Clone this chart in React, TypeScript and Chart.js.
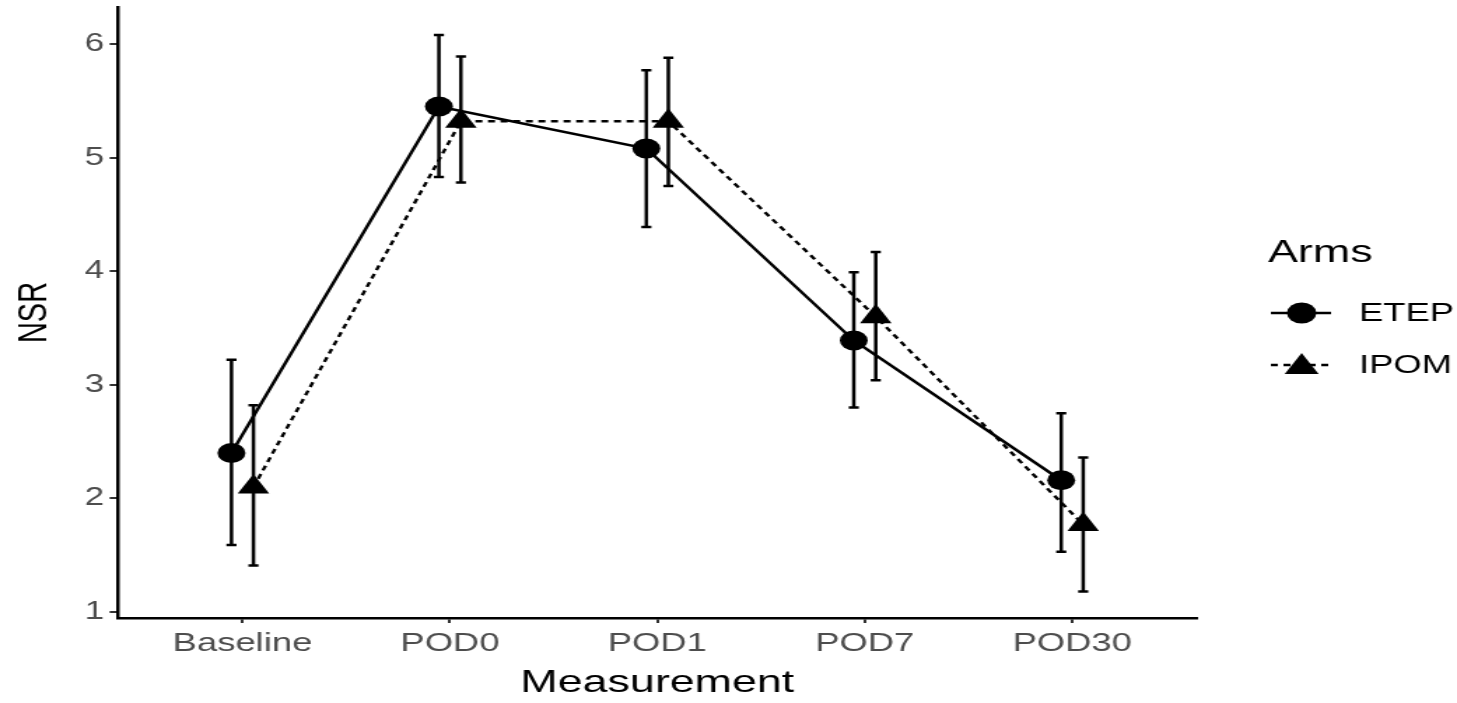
import React, { useEffect, useRef } from "react";
import { Chart, registerables } from "chart.js";

Chart.register(...registerables);

// ---- data ----
const categories = ["Baseline", "POD0", "POD1", "POD7", "POD30"];
const seriesNames = ["ETEP", "IPOM"];
const etepMean = [2.4, 5.45, 5.08, 3.39, 2.16];
const etepLower = [1.59, 4.83, 4.39, 2.8, 1.53];
const etepUpper = [3.22, 6.08, 5.77, 3.99, 2.75];
const ipomMean = [2.1, 5.32, 5.32, 3.6, 1.77];
const ipomLower = [1.41, 4.78, 4.75, 3.04, 1.18];
const ipomUpper = [2.82, 5.89, 5.88, 4.17, 2.36];
const yTickValues = [1, 2, 3, 4, 5, 6];

const lowers = [etepLower, ipomLower];
const uppers = [etepUpper, ipomUpper];
const dodge = 0.053;

// ---- layout (canvas is drawn narrower and stretched horizontally) ----
const PAGE_W = 1457;
const PAGE_H = 703;
const CANVAS_W = 1041;
const STRETCH = PAGE_W / CANVAS_W;
const FONT = "'Liberation Sans', Arial, Helvetica, sans-serif";

function drawMarker(ctx: CanvasRenderingContext2D, style: string, x: number, y: number, r: number) {
  ctx.beginPath();
  if (style === "triangle") {
    for (let k = 0; k < 3; k++) {
      const a = (k * 2 * Math.PI) / 3;
      const px = x + Math.sin(a) * r;
      const py = y - Math.cos(a) * r;
      if (k === 0) ctx.moveTo(px, py);
      else ctx.lineTo(px, py);
    }
    ctx.closePath();
  } else {
    ctx.arc(x, y, r, 0, Math.PI * 2);
  }
  ctx.fill();
}

const errorBarPlugin = {
  id: "errorBars",
  afterDatasetsDraw(chart: any) {
    const { ctx, scales } = chart;
    const xs = scales.x;
    const ys = scales.y;
    chart.data.datasets.forEach((ds: any, di: number) => {
      const lo = lowers[di];
      const hi = uppers[di];
      ds.data.forEach((p: any, i: number) => {
        const px = xs.getPixelForValue(p.x);
        const yl = ys.getPixelForValue(lo[i]);
        const yh = ys.getPixelForValue(hi[i]);
        ctx.save();
        ctx.strokeStyle = "#000";
        ctx.lineWidth = 2.5;
        ctx.setLineDash([]);
        ctx.beginPath();
        ctx.moveTo(px, yl);
        ctx.lineTo(px, yh);
        ctx.moveTo(px - 3.6, yl);
        ctx.lineTo(px + 3.6, yl);
        ctx.moveTo(px - 3.6, yh);
        ctx.lineTo(px + 3.6, yh);
        ctx.stroke();
        ctx.restore();
      });
    });
  },
};

const legendPlugin = {
  id: "ggLegend",
  afterDraw(chart: any) {
    const { ctx } = chart;
    ctx.save();
    ctx.fillStyle = "#000";
    ctx.textAlign = "left";
    ctx.textBaseline = "middle";
    ctx.font = `32px ${FONT}`;
    ctx.fillText("Arms", 906, 253);
    chart.data.datasets.forEach((ds: any, di: number) => {
      const y = 313 + di * 52;
      ctx.strokeStyle = "#000";
      ctx.lineWidth = 2.4;
      ctx.setLineDash(ds.borderDash || []);
      ctx.beginPath();
      ctx.moveTo(908, y);
      ctx.lineTo(951, y);
      ctx.stroke();
      ctx.setLineDash([]);
      ctx.fillStyle = "#000";
      if (ds.pointStyle === "triangle") drawMarker(ctx, "triangle", 930, y + 2, 14);
      else drawMarker(ctx, "circle", 930, y, 10.5);
      ctx.font = `26px ${FONT}`;
      ctx.fillText(seriesNames[di], 971, y + 1);
    });
    ctx.restore();
  },
};

export default function App() {
  const canvasRef = useRef<HTMLCanvasElement | null>(null);

  useEffect(() => {
    const canvas = canvasRef.current;
    if (!canvas) return;
    Chart.defaults.font.family = FONT;

    const chart = new Chart(canvas, {
      type: "line",
      data: {
        datasets: [
          {
            label: seriesNames[0],
            data: etepMean.map((v, i) => ({ x: i + 1 - dodge, y: v })),
            borderColor: "#000",
            backgroundColor: "#000",
            borderWidth: 2.5,
            pointStyle: "circle",
            pointRadius: 10,
            pointBorderWidth: 0,
            pointBackgroundColor: "#000",
            tension: 0,
          },
          {
            label: seriesNames[1],
            data: ipomMean.map((v, i) => ({ x: i + 1 + dodge, y: v })),
            borderColor: "#000",
            backgroundColor: "#000",
            borderWidth: 2.4,
            borderDash: [5, 4],
            pointStyle: "triangle",
            pointRadius: 13,
            pointBorderWidth: 0,
            pointBackgroundColor: "#000",
            tension: 0,
          },
        ],
      } as any,
      options: {
        animation: false,
        responsive: false,
        devicePixelRatio: 1,
        layout: {
          autoPadding: false,
          padding: { top: 7, right: CANVAS_W - 855, left: 0, bottom: 0 },
        },
        plugins: { legend: { display: false }, tooltip: { enabled: false } },
        scales: {
          x: {
            type: "linear",
            min: 0.4,
            max: 5.6,
            afterFit: (s: any) => {
              s.height = 85;
            },
            afterBuildTicks: (a: any) => {
              a.ticks = categories.map((_, i) => ({ value: i + 1 }));
            },
            ticks: {
              callback: (v: any) => categories[Math.round(v) - 1] ?? "",
              font: { size: 26, family: FONT },
              color: "#4D4D4D",
              padding: 5,
              autoSkip: false,
              maxRotation: 0,
            },
            grid: {
              display: true,
              drawOnChartArea: false,
              drawTicks: true,
              tickLength: 5,
              color: "#333333",
              lineWidth: 2,
            },
            border: { display: true, color: "#000", width: 2.5 },
            title: {
              display: true,
              text: "Measurement",
              color: "#000",
              font: { size: 32, family: FONT, lineHeight: 1.2 },
              padding: { top: 0, bottom: 1 },
            },
          },
          y: {
            type: "linear",
            min: 0.947,
            max: 6.326,
            afterFit: (s: any) => {
              s.width = 84.3;
              s.paddingTop = 0;
              s.paddingBottom = 0;
            },
            afterBuildTicks: (a: any) => {
              a.ticks = yTickValues.map((v) => ({ value: v }));
            },
            ticks: {
              callback: (v: any) => String(v),
              font: { size: 25, family: FONT },
              color: "#4D4D4D",
              padding: 4,
            },
            grid: {
              display: true,
              drawOnChartArea: false,
              drawTicks: true,
              tickLength: 6,
              color: "#333333",
              lineWidth: 2,
            },
            border: { display: true, color: "#000", width: 2.5 },
            title: {
              display: true,
              text: "NSR",
              color: "#000",
              font: { size: 29, family: FONT, lineHeight: 1.2 },
              padding: { top: 7.6, bottom: 0 },
            },
          },
        },
      } as any,
      plugins: [errorBarPlugin, legendPlugin],
    });

    return () => chart.destroy();
  }, []);

  return (
    <div
      style={{
        position: "fixed",
        left: 0,
        top: 0,
        width: PAGE_W,
        height: PAGE_H,
        overflow: "hidden",
        background: "#fff",
      }}
    >
      <canvas
        ref={canvasRef}
        width={CANVAS_W}
        height={PAGE_H}
        style={{
          display: "block",
          width: CANVAS_W,
          height: PAGE_H,
          transform: `scaleX(${STRETCH})`,
          transformOrigin: "0 0",
        }}
      />
    </div>
  );
}
